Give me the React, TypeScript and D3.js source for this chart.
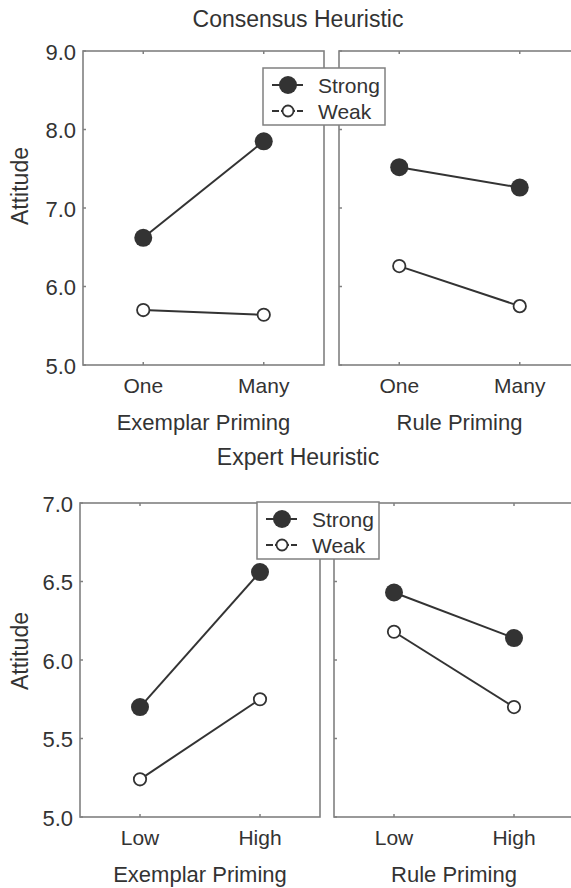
import { useEffect, useRef } from "react";
import * as d3 from "d3";

// tick labels / categories
const consensusLevels = ["One", "Many"];
const expertLevels = ["Low", "High"];
const consensusTicks = [5, 6, 7, 8, 9];
const expertTicks = [5, 5.5, 6, 6.5, 7];

// attitude means
const consensusExemplarStrong = [6.62, 7.85];
const consensusExemplarWeak = [5.7, 5.64];
const consensusRuleStrong = [7.52, 7.26];
const consensusRuleWeak = [6.26, 5.75];
const expertExemplarStrong = [5.7, 6.56];
const expertExemplarWeak = [5.24, 5.75];
const expertRuleStrong = [6.43, 6.14];
const expertRuleWeak = [6.18, 5.7];

const seriesNames = ["Strong", "Weak"];

const FONT = "'Liberation Sans', Arial, sans-serif";
const INK = "#333";
const FRAME = "#808080";

type Panel = {
  x0: number;
  x1: number;
  levels: string[];
  strong: number[];
  weak: number[];
  xTitle: string;
  yLabels: boolean;
};

function drawBlock(svg: any, opts: any) {
  const { title, titleY, top, bottom, domain, ticks, fmt, panels, legend, yTitleY } = opts;
  const g = svg.append("g");
  const y = d3.scaleLinear().domain(domain).range([bottom, top]);

  g.append("text")
    .attr("x", 298)
    .attr("y", titleY)
    .attr("text-anchor", "middle")
    .attr("font-size", 23)
    .attr("fill", INK)
    .text(title);

  g.append("text")
    .attr("transform", `translate(28,${yTitleY}) rotate(-90)`)
    .attr("text-anchor", "middle")
    .attr("font-size", 23)
    .attr("fill", INK)
    .text("Attitude");

  panels.forEach((p: Panel) => {
    const x = d3.scalePoint().domain(p.levels).range([p.x0, p.x1]).padding(0.5);
    const pg = g.append("g");

    pg.append("rect")
      .attr("x", p.x0)
      .attr("y", top)
      .attr("width", p.x1 - p.x0)
      .attr("height", bottom - top)
      .attr("fill", "none")
      .attr("stroke", FRAME)
      .attr("stroke-width", 1.6);

    // inner ticks
    pg.selectAll(".yt")
      .data(ticks)
      .enter()
      .append("line")
      .attr("x1", p.x0)
      .attr("x2", p.x0 + 3)
      .attr("y1", (d: number) => y(d))
      .attr("y2", (d: number) => y(d))
      .attr("stroke", FRAME)
      .attr("stroke-width", 1.5);
    p.levels.forEach((l) => {
      [
        [bottom, bottom - 3],
        [top, top + 3],
      ].forEach(([a, b]) => {
        pg.append("line")
          .attr("x1", x(l))
          .attr("x2", x(l))
          .attr("y1", a)
          .attr("y2", b)
          .attr("stroke", FRAME)
          .attr("stroke-width", 1.5);
      });
    });

    if (p.yLabels) {
      pg.selectAll(".yl")
        .data(ticks)
        .enter()
        .append("text")
        .attr("x", p.x0 - 7)
        .attr("y", (d: number) => y(d) + 8.5)
        .attr("text-anchor", "end")
        .attr("font-size", 22)
        .attr("fill", INK)
        .text((d: number) => fmt(d));
    }

    pg.selectAll(".xl")
      .data(p.levels)
      .enter()
      .append("text")
      .attr("x", (d: string) => x(d))
      .attr("y", bottom + 28)
      .attr("text-anchor", "middle")
      .attr("font-size", 21)
      .attr("fill", INK)
      .text((d: string) => d);

    pg.append("text")
      .attr("x", (p.x0 + p.x1) / 2)
      .attr("y", bottom + 65)
      .attr("text-anchor", "middle")
      .attr("font-size", 22)
      .attr("fill", INK)
      .text(p.xTitle);

    const line = d3
      .line<number>()
      .x((_, i) => x(p.levels[i]) as number)
      .y((d) => y(d));

    [p.weak, p.strong].forEach((vals) => {
      pg.append("path")
        .attr("d", line(vals))
        .attr("fill", "none")
        .attr("stroke", INK)
        .attr("stroke-width", 2);
    });

    pg.selectAll(".wk")
      .data(p.weak)
      .enter()
      .append("circle")
      .attr("cx", (_: number, i: number) => x(p.levels[i]))
      .attr("cy", (d: number) => y(d))
      .attr("r", 6.2)
      .attr("fill", "#fff")
      .attr("stroke", INK)
      .attr("stroke-width", 1.8);

    pg.selectAll(".st")
      .data(p.strong)
      .enter()
      .append("circle")
      .attr("cx", (_: number, i: number) => x(p.levels[i]))
      .attr("cy", (d: number) => y(d))
      .attr("r", 9)
      .attr("fill", INK);
  });

  // legend
  const lg = g.append("g").attr("transform", `translate(${legend.x},${legend.y})`);
  lg.append("rect")
    .attr("width", 122)
    .attr("height", 57)
    .attr("fill", "#fff")
    .attr("stroke", FRAME)
    .attr("stroke-width", 1.5);
  seriesNames.forEach((name, i) => {
    const cy = 17 + i * 26;
    lg.append("line")
      .attr("x1", 9)
      .attr("x2", 40)
      .attr("y1", cy)
      .attr("y2", cy)
      .attr("stroke", INK)
      .attr("stroke-width", 2);
    lg.append("circle")
      .attr("cx", 25)
      .attr("cy", cy)
      .attr("r", i === 0 ? 9 : 5.5)
      .attr("fill", i === 0 ? INK : "#fff")
      .attr("stroke", INK)
      .attr("stroke-width", i === 0 ? 0 : 1.8);
    if (i === 1) {
      // gaps either side of the open marker
      [17, 33].forEach((gx) => {
        lg.append("rect")
          .attr("x", gx - 1)
          .attr("y", cy - 2)
          .attr("width", 2)
          .attr("height", 4)
          .attr("fill", "#fff");
      });
    }
    lg.append("text")
      .attr("x", 55)
      .attr("y", cy + 7.5)
      .attr("font-size", 21)
      .attr("fill", INK)
      .text(name);
  });
}

export default function App() {
  const ref = useRef<SVGSVGElement>(null);

  useEffect(() => {
    document.body.style.margin = "0";
    const svg = d3.select(ref.current);
    svg.selectAll("*").remove();
    svg.attr("font-family", FONT);

    drawBlock(svg, {
      title: "Consensus Heuristic",
      titleY: 27,
      top: 51,
      bottom: 365,
      yTitleY: 186,
      domain: [5, 9],
      ticks: consensusTicks,
      fmt: d3.format(".1f"),
      legend: { x: 263, y: 68 },
      panels: [
        { x0: 83, x1: 324, levels: consensusLevels, strong: consensusExemplarStrong, weak: consensusExemplarWeak, xTitle: "Exemplar Priming", yLabels: true },
        { x0: 339, x1: 580, levels: consensusLevels, strong: consensusRuleStrong, weak: consensusRuleWeak, xTitle: "Rule Priming", yLabels: false },
      ],
    });

    drawBlock(svg, {
      title: "Expert Heuristic",
      titleY: 465,
      top: 503,
      bottom: 817,
      yTitleY: 651,
      domain: [5, 7],
      ticks: expertTicks,
      fmt: d3.format(".1f"),
      legend: { x: 257, y: 502 },
      panels: [
        { x0: 80, x1: 320, levels: expertLevels, strong: expertExemplarStrong, weak: expertExemplarWeak, xTitle: "Exemplar Priming", yLabels: true },
        { x0: 334, x1: 574, levels: expertLevels, strong: expertRuleStrong, weak: expertRuleWeak, xTitle: "Rule Priming", yLabels: false },
      ],
    });
  }, []);

  return <svg ref={ref} width={571} height={888} style={{ display: "block" }}></svg>;
}
